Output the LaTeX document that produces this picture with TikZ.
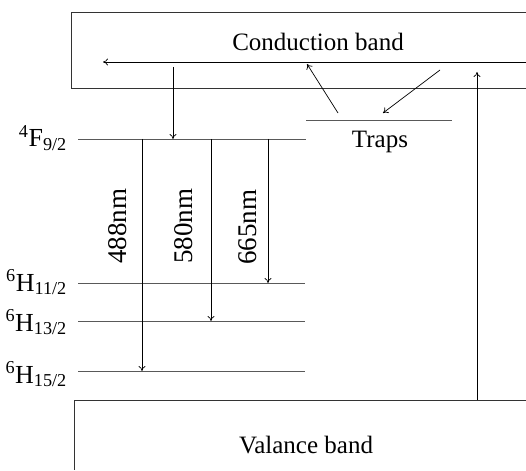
\documentclass[tikz,border=0pt]{standalone}
\usepackage{fontspec}
\setmainfont{Liberation Serif}
\usetikzlibrary{arrows.meta}
\begin{document}
\begin{tikzpicture}[x=1pt,y=-1pt,
  band/.style={line width=0.9pt, draw=black!80},
  level/.style={line width=0.8pt, draw=black!65},
  trans/.style={line width=0.7pt, -{To[length=5pt,width=7pt]}},
  lbl/.style={font=\fontsize{25}{29}\selectfont, inner sep=0pt},
  statelbl/.style={font=\fontsize{26}{30}\selectfont, inner sep=0pt, anchor=base east},
  wl/.style={font=\fontsize{27}{31}\selectfont, inner sep=0pt, rotate=90}]
\useasboundingbox (0,0) rectangle (526,470);
% bands
\draw[band] (526,12) -- (71,12) -- (71,88) -- (526,88);
\draw[band] (526,400) -- (74,400) -- (74,470);
\node[lbl] (cb) at (318,42) {Conduction band};
\node[lbl] (vb) at (306,445) {Valance band};
% conduction band inner line
\coordinate (cbR) at (526,62);
\coordinate (cbL) at (103,62);
\draw[trans] (cbR) -- (cbL);
% traps
\coordinate (trL) at (306,120);
\coordinate (trR) at (452,120);
\draw[level] (trL) -- (trR);
\node[lbl] (traps) at (380,142) {Traps};
\coordinate (t1s) at (338,113);
\coordinate (t1e) at (307,64);
\draw[trans] (t1s) -- (t1e);
\coordinate (t2s) at (440,70);
\coordinate (t2e) at (383,113);
\draw[trans] (t2s) -- (t2e);
% excitation
\coordinate (vbTop) at (477,400);
\coordinate (cbIn) at (477,72);
\draw[trans] (vbTop) -- (cbIn);
% relaxation to 4F
\coordinate (rs) at (173,67);
\coordinate (re) at (173,139);
\draw[trans] (rs) -- (re);
% levels
\coordinate (F1) at (78,139);  \coordinate (F2) at (306,139);
\coordinate (H11a) at (78,283); \coordinate (H11b) at (305,283);
\coordinate (H13a) at (78,321); \coordinate (H13b) at (305,321);
\coordinate (H15a) at (78,371); \coordinate (H15b) at (305,371);
\draw[level] (F1) -- (F2);
\draw[level] (H11a) -- (H11b);
\draw[level] (H13a) -- (H13b);
\draw[level] (H15a) -- (H15b);
\node[statelbl] (lF) at (67,147) {\textsuperscript{4}F\textsubscript{9/2}};
\node[statelbl] (lH11) at (67,291) {\textsuperscript{6}H\textsubscript{11/2}};
\node[statelbl] (lH13) at (67,331) {\textsuperscript{6}H\textsubscript{13/2}};
\node[statelbl] (lH15) at (67,383) {\textsuperscript{6}H\textsubscript{15/2}};
% emissions
\coordinate (a1s) at (142,139); \coordinate (a1e) at (142,371);
\coordinate (a2s) at (211,139); \coordinate (a2e) at (211,321);
\coordinate (a3s) at (268,139); \coordinate (a3e) at (268,283);
\draw[trans] (a1s) -- (a1e);
\draw[trans] (a2s) -- (a2e);
\draw[trans] (a3s) -- (a3e);
\node[wl] (w1) at (118,226) {488nm};
\node[wl] (w2) at (184,226) {580nm};
\node[wl] (w3) at (248,227) {665nm};
\end{tikzpicture}
\end{document}
